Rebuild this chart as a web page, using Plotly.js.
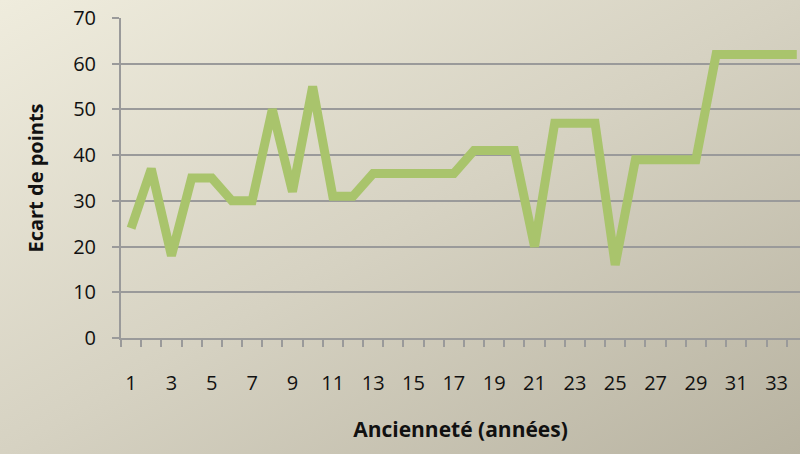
<!DOCTYPE html>
<html>
<head>
<meta charset="utf-8">
<script src="https://cdn.plot.ly/plotly-3.0.1.min.js"></script>
<style>
  html, body { margin: 0; padding: 0; }
  #chart {
    width: 800px;
    height: 454px;
    background: linear-gradient(to bottom right, #efecdd 0%, #d6d2c2 50%, #b8b3a1 100%);
  }
</style>
</head>
<body>
<div id="chart"></div>
<script>
// anciennete (annees) vs ecart de points
const years = [];
for (let i = 1; i <= 34; i++) years.push(i);
const ecart = [24, 37, 18, 35, 35, 30, 30, 50, 32, 55,
               31, 31, 36, 36, 36, 36, 36, 41, 41, 41,
               20, 47, 47, 47, 16, 39, 39, 39, 39, 62,
               62, 62, 62, 62];
const xTickVals = [1, 3, 5, 7, 9, 11, 13, 15, 17, 19, 21, 23, 25, 27, 29, 31, 33];
const yTickVals = [0, 10, 20, 30, 40, 50, 60, 70];

const font = 'Open Sans, Lato, sans-serif';
const grid = '#9a9a9a';

const traces = [{
    x: years,
    y: ecart,
    mode: 'lines',
    line: { width: 9, color: '#a9c46c', shape: 'linear' },
    showlegend: false,
    hoverinfo: 'x+y',
}];

Plotly.newPlot('chart', traces, {
    width: 800,
    height: 454,
    margin: { l: 121, r: 0, t: 18, b: 116 },
    paper_bgcolor: 'rgba(0,0,0,0)',
    plot_bgcolor: 'rgba(0,0,0,0)',
    font: { family: font, color: '#111', size: 20 },
    xaxis: {
        title: { text: 'Ancienneté (années)', font: { size: 21, family: font, weight: 'bold' }, standoff: 27 },
        range: [0.5, 34.16],
        tickvals: xTickVals,
        ticks: '',
        showgrid: false,
        zeroline: false,
        showline: true,
        linecolor: grid,
        linewidth: 2,
        ticklabelstandoff: 26,
        minor: { tick0: 0.5, dtick: 1, ticks: 'outside', ticklen: 7, tickwidth: 2, tickcolor: grid, showgrid: false },
        automargin: false,
        fixedrange: true,
    },
    yaxis: {
        title: { text: 'Ecart de points', font: { size: 20, family: font, weight: 'bold' }, standoff: 24 },
        range: [0, 70],
        tickvals: yTickVals,
        ticks: 'outside',
        ticklen: 7,
        tickwidth: 2,
        tickcolor: grid,
        gridcolor: grid,
        gridwidth: 2,
        zeroline: false,
        showline: true,
        linecolor: grid,
        linewidth: 2,
        ticklabelstandoff: 12,
        automargin: false,
        fixedrange: true,
    },
}, {
    staticPlot: true,
    displayModeBar: false,
});
</script>
</body>
</html>
